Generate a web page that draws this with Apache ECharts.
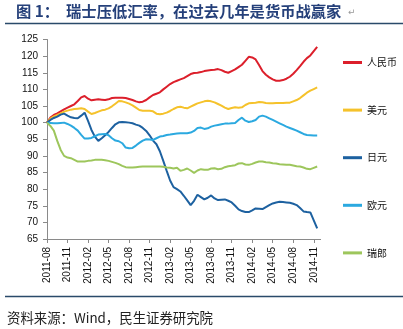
<!DOCTYPE html>
<html><head><meta charset="utf-8">
<script src="https://cdn.jsdelivr.net/npm/echarts@6/dist/echarts.min.js"></script>
<style>html,body{margin:0;padding:0;background:#fff}#c{width:403px;height:329px}</style>
</head><body><div id="c"></div>
<script>
// half-monthly observations, 2011-08 .. 2014-11
const months = [];
for (let y = 2011, m = 8; !(y === 2014 && m === 13); m++) {
  if (m === 13) { m = 1; y++; }
  months.push(y + '-' + String(m).padStart(2, '0'));
  if (y === 2014 && m === 12) break;
}
const categories = [];
months.forEach(function (mo) { categories.push(mo + '-01', mo + '-16'); });
categories.length = 81;

const tickLabels = ['2011-08','2011-11','2012-02','2012-05','2012-08','2012-11','2013-02','2013-05','2013-08','2013-11','2014-02','2014-05','2014-08','2014-11'];
const seriesNames = ['人民币','美元','日元','欧元','瑞郎'];

const cny = [100,101.5,102.3,102.8,103.4,104,104.5,105,105.5,106.5,
107.6,108,107.2,106.7,106.9,107,106.9,106.8,107,107.4,
107.5,107.5,107.5,107.4,107.1,106.8,106.4,106.1,106.3,106.8,
107.6,108.3,108.7,109.1,110,110.8,111.6,112.2,112.6,113,
113.4,114,114.6,114.9,115,115.2,115.5,115.7,115.8,115.9,
116.1,115.8,115.3,115,115.5,116,116.7,117.4,118.6,119.8,
119.6,119,117.3,115.5,114.4,113.6,113,112.6,112.6,112.8,
113.2,113.8,114.7,115.8,117,118.3,119.4,120.2,121.5,122.8];
const usd = [100,101.2,101.9,102.3,102.8,103.3,103.6,103.9,104.1,104.2,
104.3,104.1,103.3,102.6,102.9,103.3,103.7,103.9,104.3,104.9,
105.7,106.5,106.4,106.1,105.7,105.2,104.5,103.8,103.6,103.6,
103.6,103.4,102.7,102.5,102.7,103,103.5,104.1,104.6,104.8,
104.5,104.3,104.8,105.3,105.8,106.1,106.4,106.6,106.4,106.1,
105.6,105.1,104.5,104.1,104.4,104.6,104.5,104.6,105.3,105.8,
105.9,106,106.2,106.1,105.9,105.8,105.8,105.9,105.9,105.9,
106,106,106.4,106.8,107.4,108.2,109,109.6,110.1,110.6];
const jpy = [100,100.8,101.4,101.8,102.4,102.7,102.1,101.6,101.4,101.3,
102.1,103,100.5,97.8,95.8,94.5,95.3,96.2,97.2,98.4,
99.5,100.1,100.2,100.1,100,99.8,99.4,99.1,98.4,97.5,
96.2,94.6,93.5,91.4,88.5,85.5,82.6,80.6,80,79.3,
78,76.6,75.2,76.5,78.3,77.6,76.9,77.4,78.1,77.2,
76.7,76.8,76.9,76.5,76,75,73.9,73.4,73.1,73.1,
73.6,74.2,74.1,74,74.6,75.2,75.7,76,76.2,76.1,
76,75.9,75.6,75.2,74.3,73.3,73.1,73,70.6,68.2];
const eur = [100,99.9,99.8,99.8,99.9,100,99.6,99.1,98.4,97.6,
96.3,95.2,95.2,95.4,95.9,96.4,96.5,96.6,96.2,95.3,
94.6,94.4,93.8,92.5,92.3,92.4,93.1,93.9,94.6,95,
94.9,94.8,95.3,95.8,96,96.3,96.4,96.6,96.7,96.8,
96.8,96.8,97,97.5,98.4,98.5,98.1,98.3,98.8,99.1,
99.3,99.5,99.7,99.7,99.8,99.9,100.8,101.5,100.6,100.2,
100.4,100.8,101.8,102.1,101.8,101.3,100.8,100.3,99.8,99.3,
98.8,98.4,98,97.6,97.1,96.6,96.3,96.2,96.1,96.1];
const chf = [100,99,97.6,94.5,91.8,90,89.5,89.3,88.8,88.3,
88.3,88.3,88.5,88.6,88.8,88.8,88.8,88.7,88.5,88.2,
87.9,87.5,87,86.6,86.5,86.5,86.6,86.7,86.8,86.8,
86.8,86.8,86.8,86.8,86.7,86.5,86.4,86.2,86.4,85.5,
85.8,86.2,85.6,84.9,85.6,86,85.8,85.8,86.2,86.3,
86,86.1,86.6,86.9,87,87.2,87.7,87.8,87.4,87.3,
87.6,88,88.3,88.3,88.1,88,87.8,87.7,87.5,87.4,
87.3,87.3,87.1,86.9,86.8,86.5,86.1,86,86.4,86.8];

const colors = ['#DC1F2B','#F5C22B','#1D61A0','#2BA9E0','#9DC65C'];
const values = [cny, usd, jpy, eur, chf];

function isTick(idx, val) { return val.slice(8) === '01' && tickLabels.indexOf(val.slice(0, 7)) >= 0; }

const chart = echarts.init(document.getElementById('c'), null, {renderer: 'canvas'});
chart.setOption({
  animation: false,
  color: colors,
  grid: {left: 47, top: 39.5, right: 82.4, bottom: 90, containLabel: false},
  legend: {
    orient: 'vertical', left: 338, top: 51.5,
    itemWidth: 19, itemHeight: 3, itemGap: 35.6,
    icon: 'rect',
    textStyle: {fontSize: 10, color: '#111', fontFamily: 'Noto Sans CJK SC', lineHeight: 12},
    data: seriesNames
  },
  xAxis: {
    type: 'category', boundaryGap: false, data: categories,
    axisLine: {lineStyle: {color: '#8a8a8a', width: 1}},
    axisTick: {show: true, inside: false, length: 4, interval: isTick, lineStyle: {color: '#8a8a8a'}},
    axisLabel: {interval: isTick, rotate: 90, margin: 8, fontSize: 10, color: '#111',
      fontFamily: 'Liberation Sans', formatter: function (v) { return v.slice(0, 7); }},
    splitLine: {show: false}
  },
  yAxis: {
    type: 'value', min: 65, max: 125, interval: 5,
    axisLine: {show: true, lineStyle: {color: '#8a8a8a', width: 1}},
    axisTick: {show: true, inside: false, length: 4, lineStyle: {color: '#8a8a8a'}},
    axisLabel: {fontSize: 10, color: '#111', margin: 9, fontFamily: 'Liberation Sans'},
    splitLine: {show: false}
  },
  series: seriesNames.map(function (n, k) {
    return {name: n, type: 'line', data: values[k], showSymbol: false, symbol: 'none',
      lineStyle: {width: 2, color: colors[k]}, itemStyle: {color: colors[k]}};
  }),
  graphic: [
    {type: 'text', left: 16, top: 4, style: {text: '图 1：  瑞士压低汇率，在过去几年是货币战赢家',
      font: 'bold 15.3px "Noto Sans CJK SC"', fill: '#25407a'}},
    {type: 'text', left: 348, top: 8, style: {text: '↵', font: '9px "DejaVu Sans"', fill: '#999'}},
    {type: 'line', shape: {x1: 5, y1: 23.5, x2: 403, y2: 23.5}, style: {stroke: '#2a4a6a', lineWidth: 1.5}},
    {type: 'line', shape: {x1: 5, y1: 296.5, x2: 403, y2: 296.5}, style: {stroke: '#2a4a6a', lineWidth: 1.5}},
    {type: 'text', left: 7, top: 311, style: {text: '资料来源：Wind，民生证券研究院',
      font: '13.4px "Noto Sans CJK SC"', fill: '#222'}}
  ]
});
</script></body></html>
